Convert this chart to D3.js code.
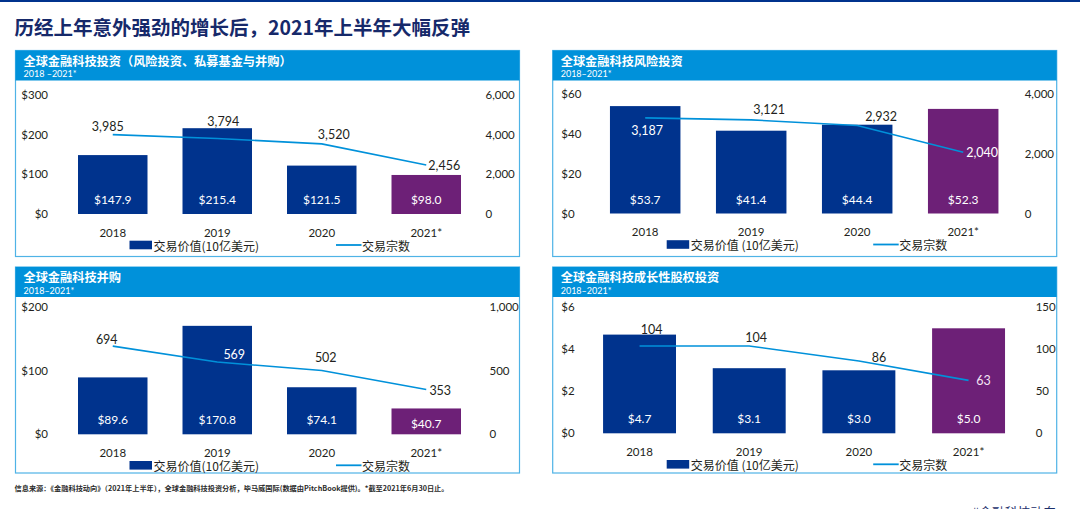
<!DOCTYPE html>
<html>
<head>
<meta charset="utf-8">
<script src="https://cdn.jsdelivr.net/npm/d3@7"></script>
<style>
  html, body { margin: 0; padding: 0; background: #fff; }
  svg { display: block; }
  .num { font-family: Lato, "Noto Sans", sans-serif; }
  .cjk { font-family: "Noto Sans CJK SC", sans-serif; }
</style>
</head>
<body>
<div id="chart"></div>
<script>
// data
const years = ['2018', '2019', '2020', '2021*'];

const totalValue = [147.9, 215.4, 121.5, 98.0];
const totalDeals = [3985, 3794, 3520, 2456];
const totalValueTicks = [0, 100, 200, 300];
const totalDealTicks = [0, 2000, 4000, 6000];

const vcValue = [53.7, 41.4, 44.4, 52.3];
const vcDeals = [3187, 3121, 2932, 2040];
const vcValueTicks = [0, 20, 40, 60];
const vcDealTicks = [0, 2000, 4000];

const maValue = [89.6, 170.8, 74.1, 40.7];
const maDeals = [694, 569, 502, 353];
const maValueTicks = [0, 100, 200];
const maDealTicks = [0, 500, 1000];

const peValue = [4.7, 3.1, 3.0, 5.0];
const peDeals = [104, 104, 86, 63];
const peValueTicks = [0, 2, 4, 6];
const peDealTicks = [0, 50, 100, 150];

const width = 1080;
const height = 509;
const navy = '#00338d';
const purple = '#6d2077';
const cyan = '#0091da';
const ink = '#231f20';

const panelW = 504;
const panelH = 206;
const headH = 30;

// where each deal-count label sits, relative to its line point (or bar top)
const totalLabels = [
  { on: 'line', dx: -5, dy: -8, fill: ink },
  { on: 'bar', dx: 6, dy: -7, fill: ink },
  { on: 'line', dx: 12, dy: -9, fill: ink },
  { on: 'line', dx: 18, dy: 0, fill: ink },
];
const vcLabels = [
  { on: 'line', dx: 2, dy: 13, fill: '#fff' },
  { on: 'line', dx: 18, dy: -10, fill: ink },
  { on: 'line', dx: 24, dy: -9, fill: ink },
  { on: 'line', dx: 19, dy: 0, fill: '#fff' },
];
const maLabels = [
  { on: 'line', dx: -6, dy: -7, fill: ink },
  { on: 'line', dx: 17, dy: -8, fill: '#fff' },
  { on: 'line', dx: 4, dy: -13, fill: ink },
  { on: 'line', dx: 14, dy: 1.5, fill: ink },
];
const peLabels = [
  { on: 'bar', dx: 12, dy: -5, fill: ink },
  { on: 'line', dx: 7, dy: -8.5, fill: ink },
  { on: 'line', dx: 20, dy: -3.5, fill: ink },
  { on: 'line', dx: 15, dy: 0, fill: '#f3e4f4' },
];

const panels = [
  {
    x: 15.5, y: 50.5, title: '全球金融科技投资（风险投资、私募基金与并购）', sub: '2018 –2021*',
    values: totalValue, deals: totalDeals, vTicks: totalValueTicks, dTicks: totalDealTicks,
    plot: [44, 163.5], band: [45, 463], leftAnchor: 'end', leftX: 32.5, rightX: 470,
    legendText: '交易价值(10亿美元)', labels: totalLabels,
  },
  {
    x: 552.7, y: 50.5, title: '全球金融科技风险投资', sub: '2018–2021*',
    values: vcValue, deals: vcDeals, vTicks: vcValueTicks, dTicks: vcDealTicks,
    plot: [43, 163], band: [39.5, 463.5], leftAnchor: 'start', leftX: 8.6, rightX: 472,
    legendText: '交易价值 (10亿美元)', labels: vcLabels,
  },
  {
    x: 15.5, y: 267, title: '全球金融科技并购', sub: '2018–2021*',
    values: maValue, deals: maDeals, vTicks: maValueTicks, dTicks: maDealTicks,
    plot: [40.3, 167.3], band: [45, 463], leftAnchor: 'end', leftX: 32.5, rightX: 474,
    legendText: '交易价值(10亿美元)', labels: maLabels,
  },
  {
    x: 552.7, y: 267, title: '全球金融科技成长性股权投资', sub: '2018–2021*',
    values: peValue, deals: peDeals, vTicks: peValueTicks, dTicks: peDealTicks,
    plot: [40.3, 166.3], band: [32, 470.7], leftAnchor: 'start', leftX: 8.6, rightX: 483,
    legendText: '交易价值 (10亿美元)', labels: peLabels,
  },
];

const svg = d3.select('#chart').append('svg')
  .attr('width', width)
  .attr('height', height)
  .attr('viewBox', [0, 0, width, height]);

/* PAGE HEADER */

svg.append('rect')
  .attr('x', 0).attr('y', 0)
  .attr('width', width).attr('height', 2)
  .attr('fill', navy);

svg.append('text')
  .attr('class', 'cjk')
  .attr('x', 14.5)
  .attr('y', 26.5)
  .attr('dominant-baseline', 'central')
  .attr('font-size', 19.5)
  .attr('font-weight', 700)
  .attr('fill', '#16296a')
  .text('历经上年意外强劲的增长后，2021年上半年大幅反弹');

/* PANELS */

const drawPanel = (p) => {
  const g = svg.append('g').attr('transform', `translate(${p.x}, ${p.y})`);

  g.append('rect')
    .attr('x', 0).attr('y', 0)
    .attr('width', panelW).attr('height', panelH)
    .attr('fill', '#fff')
    .attr('stroke', '#4fb3e6')
    .attr('stroke-width', 1.2);

  g.append('rect')
    .attr('x', 0).attr('y', 0)
    .attr('width', panelW).attr('height', headH)
    .attr('fill', cyan);

  g.append('text')
    .attr('class', 'cjk')
    .attr('x', 8)
    .attr('y', 10)
    .attr('dominant-baseline', 'central')
    .attr('font-size', 12.2)
    .attr('font-weight', 700)
    .attr('fill', '#fff')
    .text(p.title);

  g.append('text')
    .attr('class', 'num')
    .attr('x', 8)
    .attr('y', 23)
    .attr('dominant-baseline', 'central')
    .attr('font-size', 9)
    .attr('fill', '#fff')
    .text(p.sub);

  const [top, bottom] = p.plot;

  const x = d3.scaleBand()
    .domain(years)
    .range(p.band)
    .paddingInner(0.335)
    .paddingOuter(0.1675);

  const yValue = d3.scaleLinear()
    .domain([0, d3.max(p.vTicks)])
    .range([bottom, top]);

  const yDeals = d3.scaleLinear()
    .domain([0, d3.max(p.dTicks)])
    .range([bottom, top]);

  // left axis
  g.append('g')
    .attr('transform', `translate(${p.leftX}, 0)`)
    .call(d3.axisLeft(yValue)
      .tickValues(p.vTicks)
      .tickFormat((d) => `$${d}`)
      .tickSize(0)
      .tickPadding(0))
    .call((a) => a.select('.domain').remove())
    .call((a) => a.selectAll('text')
      .attr('class', 'num')
      .attr('text-anchor', p.leftAnchor)
      .attr('font-size', 11.5)
      .attr('fill', ink));

  // right axis
  g.append('g')
    .attr('transform', `translate(${p.rightX}, 0)`)
    .call(d3.axisRight(yDeals)
      .tickValues(p.dTicks)
      .tickFormat(d3.format(','))
      .tickSize(0)
      .tickPadding(0))
    .call((a) => a.select('.domain').remove())
    .call((a) => a.selectAll('text')
      .attr('class', 'num')
      .attr('font-size', 11.5)
      .attr('fill', ink));

  const rows = years.map((year, i) => ({ year, value: p.values[i], deals: p.deals[i] }));
  const cx = (d) => x(d.year) + x.bandwidth() / 2;

  // bars
  g.append('g')
    .selectAll('rect')
    .data(rows)
    .join('rect')
    .attr('x', (d) => x(d.year))
    .attr('y', (d) => yValue(d.value))
    .attr('width', x.bandwidth())
    .attr('height', (d) => yValue(0) - yValue(d.value))
    .attr('fill', (d, i) => (i === rows.length - 1 ? purple : navy));

  // bar values
  g.append('g')
    .selectAll('text')
    .data(rows)
    .join('text')
    .attr('class', 'num')
    .attr('x', cx)
    .attr('y', (d) => Math.max(yValue(0) - 14.5, (yValue(0) + yValue(d.value)) / 2 + 2))
    .attr('text-anchor', 'middle')
    .attr('dominant-baseline', 'central')
    .attr('font-size', 12)
    .attr('fill', '#fff')
    .text((d) => `$${d3.format('.1f')(d.value)}`);

  // deal line
  const line = d3.line()
    .x(cx)
    .y((d) => yDeals(d.deals));

  g.append('path')
    .datum(rows)
    .attr('d', line)
    .attr('fill', 'none')
    .attr('stroke', cyan)
    .attr('stroke-width', 1.6);

  // deal labels
  g.append('g')
    .selectAll('text')
    .data(rows)
    .join('text')
    .attr('class', 'num')
    .attr('x', (d, i) => cx(d) + p.labels[i].dx)
    .attr('y', (d, i) => (p.labels[i].on === 'bar' ? yValue(d.value) : yDeals(d.deals)) + p.labels[i].dy)
    .attr('text-anchor', 'middle')
    .attr('dominant-baseline', 'central')
    .attr('font-size', 12.5)
    .attr('fill', (d, i) => p.labels[i].fill)
    .text((d) => d3.format(',')(d.deals));

  // year labels
  g.append('g')
    .selectAll('text')
    .data(rows)
    .join('text')
    .attr('class', 'num')
    .attr('x', cx)
    .attr('y', bottom + 18)
    .attr('text-anchor', 'middle')
    .attr('dominant-baseline', 'central')
    .attr('font-size', 11.5)
    .attr('fill', ink)
    .text((d) => d.year);

  // legend
  const legend = g.append('g').attr('transform', `translate(0, ${bottom + 31})`);

  legend.append('rect')
    .attr('x', 114).attr('y', -4.3)
    .attr('width', 22.5).attr('height', 8.6)
    .attr('fill', navy);

  legend.append('text')
    .attr('class', 'cjk')
    .attr('x', 138)
    .attr('dominant-baseline', 'central')
    .attr('font-size', 12)
    .attr('fill', ink)
    .text(p.legendText);

  legend.append('line')
    .attr('x1', 320.5).attr('x2', 346)
    .attr('y1', 0).attr('y2', 0)
    .attr('stroke', cyan)
    .attr('stroke-width', 1.8);

  legend.append('text')
    .attr('class', 'cjk')
    .attr('x', 346.5)
    .attr('dominant-baseline', 'central')
    .attr('font-size', 12)
    .attr('fill', ink)
    .text('交易宗数');
};

panels.forEach(drawPanel);

/* FOOTER */

svg.append('text')
  .attr('class', 'cjk')
  .attr('x', 14.5)
  .attr('y', 488)
  .attr('dominant-baseline', 'central')
  .attr('font-size', 7)
  .attr('font-weight', 700)
  .attr('fill', '#2a2a2a')
  .attr('textLength', 434)
  .attr('lengthAdjust', 'spacingAndGlyphs')
  .text('信息来源：《金融科技动向》（2021年上半年），全球金融科技投资分析，毕马威国际(数据由PitchBook提供)。*截至2021年6月30日止。');

// hashtag at the lower right, cut by the page edge as in the source image
svg.append('text')
  .attr('class', 'cjk')
  .attr('x', 972)
  .attr('y', 516.5)
  .attr('font-size', 12.5)
  .attr('fill', '#1b2f6b')
  .attr('textLength', 84)
  .attr('lengthAdjust', 'spacingAndGlyphs')
  .text('#金融科技动向');
</script>
</body>
</html>
